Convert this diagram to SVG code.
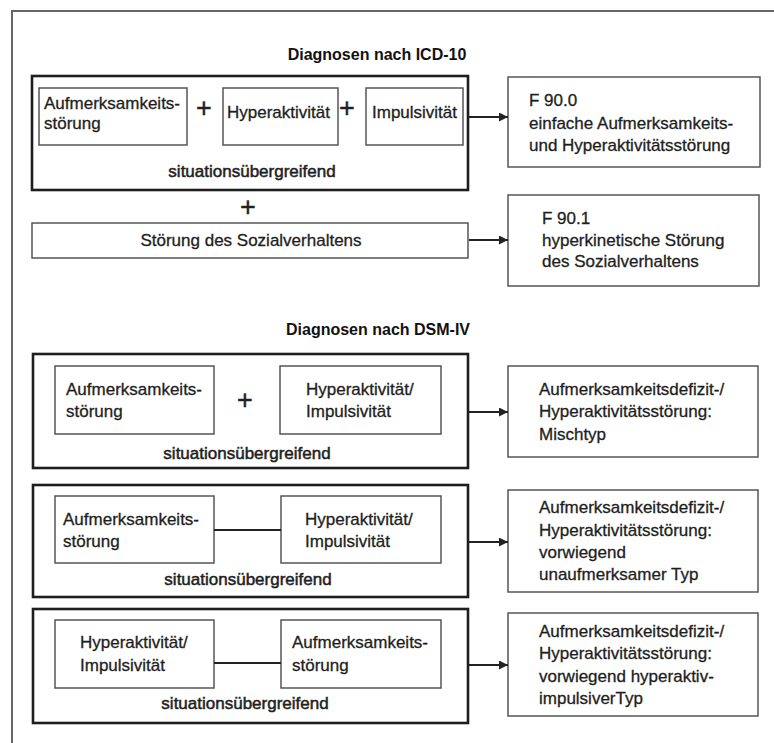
<svg xmlns="http://www.w3.org/2000/svg" width="774" height="743" viewBox="0 0 774 743">
<defs>
<style>
text{font-family:"Liberation Sans",Arial,sans-serif;font-size:17px;fill:#1e1e1e;stroke:#1e1e1e;stroke-width:0.3}
.title{font-weight:bold;font-size:16px;text-anchor:middle;fill:#111;stroke:none}
.mid{text-anchor:middle}
.sit{stroke-width:0.5}
.plus{font-size:27px;text-anchor:middle;fill:#222;stroke-width:0.4}
.thick{fill:none;stroke:#1e1e1e;stroke-width:2.6}
.thin{fill:#fff;stroke:#555;stroke-width:1.5}
.conn{stroke:#222;stroke-width:2;fill:none}
</style>
<marker id="arr" viewBox="0 0 10 10" refX="10" refY="5" markerWidth="5.5" markerHeight="4.5" orient="auto" markerUnits="strokeWidth">
<path d="M0,0 L10,5 L0,10 z" fill="#222"/>
</marker>
</defs>
<rect width="774" height="743" fill="#fff"/>
<path d="M12,743 V11 H774" fill="none" stroke="#666" stroke-width="2"/>

<text class="title" x="377" y="60">Diagnosen nach ICD-10</text>
<text class="title" x="378" y="335">Diagnosen nach DSM-IV</text>

<g id="icd-group">
<rect class="thick" x="32" y="76" width="436" height="114"/>
<text class="mid sit" x="252" y="177">situationsübergreifend</text>
</g>
<g id="icd-aufmerksamkeit">
<rect class="thin" x="39" y="88" width="148" height="57"/>
<text x="44" y="109">Aufmerksamkeits-</text>
<text x="44" y="129">störung</text>
</g>
<text class="plus" x="204" y="117">+</text>
<g id="icd-hyperaktivitaet">
<rect class="thin" x="223" y="88" width="115" height="57"/>
<text x="227" y="118">Hyperaktivität</text>
</g>
<text class="plus" x="347" y="117">+</text>
<g id="icd-impulsivitaet">
<rect class="thin" x="366" y="88" width="97" height="57"/>
<text x="372" y="118">Impulsivität</text>
</g>
<text class="plus" x="248" y="216">+</text>
<g id="icd-sozial">
<rect class="thin" x="32" y="223" width="436" height="35"/>
<text class="mid" x="251" y="246">Störung des Sozialverhaltens</text>
</g>
<g id="f900">
<rect class="thin" x="508" y="77" width="252" height="90"/>
<text x="529" y="106">F 90.0</text>
<text x="529" y="129">einfache Aufmerksamkeits-</text>
<text x="529" y="151">und Hyperaktivitätsstörung</text>
</g>
<g id="f901">
<rect class="thin" x="508" y="195" width="251" height="91"/>
<text x="542" y="224">F 90.1</text>
<text x="542" y="246">hyperkinetische Störung</text>
<text x="542" y="267">des Sozialverhaltens</text>
</g>

<g id="dsm1-group">
<rect class="thick" x="33" y="354" width="435" height="114"/>
<text class="mid sit" x="247" y="459">situationsübergreifend</text>
</g>
<g id="dsm1-a">
<rect class="thin" x="55" y="366" width="159" height="68"/>
<text x="66" y="395">Aufmerksamkeits-</text>
<text x="66" y="417">störung</text>
</g>
<text class="plus" x="245" y="409">+</text>
<g id="dsm1-b">
<rect class="thin" x="280" y="366" width="161" height="68"/>
<text x="306" y="395">Hyperaktivität/</text>
<text x="306" y="417">Impulsivität</text>
</g>
<g id="dsm1-result">
<rect class="thin" x="508" y="366" width="250" height="91"/>
<text x="539" y="395">Aufmerksamkeitsdefizit-/</text>
<text x="539" y="417">Hyperaktivitätsstörung:</text>
<text x="539" y="440">Mischtyp</text>
</g>

<g id="dsm2-group">
<rect class="thick" x="33" y="485" width="435" height="112"/>
<text class="mid sit" x="248" y="585">situationsübergreifend</text>
</g>
<g id="dsm2-a">
<rect class="thin" x="55" y="496" width="159" height="67"/>
<text x="63" y="525">Aufmerksamkeits-</text>
<text x="63" y="547">störung</text>
</g>
<g id="dsm2-b">
<rect class="thin" x="281" y="496" width="160" height="67"/>
<text x="305" y="525">Hyperaktivität/</text>
<text x="305" y="547">Impulsivität</text>
</g>
<g id="dsm2-result">
<rect class="thin" x="508" y="490" width="250" height="102"/>
<text x="539" y="513">Aufmerksamkeitsdefizit-/</text>
<text x="539" y="536">Hyperaktivitätsstörung:</text>
<text x="539" y="558">vorwiegend</text>
<text x="539" y="580">unaufmerksamer Typ</text>
</g>

<g id="dsm3-group">
<rect class="thick" x="33" y="609" width="435" height="114"/>
<text class="mid sit" x="245" y="709">situationsübergreifend</text>
</g>
<g id="dsm3-a">
<rect class="thin" x="55" y="620" width="159" height="68"/>
<text x="80" y="648">Hyperaktivität/</text>
<text x="80" y="671">Impulsivität</text>
</g>
<g id="dsm3-b">
<rect class="thin" x="281" y="620" width="160" height="68"/>
<text x="292" y="648">Aufmerksamkeits-</text>
<text x="292" y="671">störung</text>
</g>
<g id="dsm3-result">
<rect class="thin" x="508" y="613" width="250" height="103"/>
<text x="539" y="637">Aufmerksamkeitsdefizit-/</text>
<text x="539" y="659">Hyperaktivitätsstörung:</text>
<text x="539" y="682">vorwiegend hyperaktiv-</text>
<text x="539" y="704">impulsiverTyp</text>
</g>

<g id="connectors">
<line class="conn" x1="469" y1="117" x2="508" y2="117" marker-end="url(#arr)"/>
<line class="conn" x1="469" y1="240" x2="508" y2="240" marker-end="url(#arr)"/>
<line class="conn" x1="469" y1="412" x2="508" y2="412" marker-end="url(#arr)"/>
<line class="conn" x1="469" y1="542" x2="508" y2="542" marker-end="url(#arr)"/>
<line class="conn" x1="469" y1="665" x2="508" y2="665" marker-end="url(#arr)"/>
<line class="conn" x1="214" y1="530" x2="281" y2="530"/>
<line class="conn" x1="214" y1="663" x2="281" y2="663"/>
</g>
</svg>
